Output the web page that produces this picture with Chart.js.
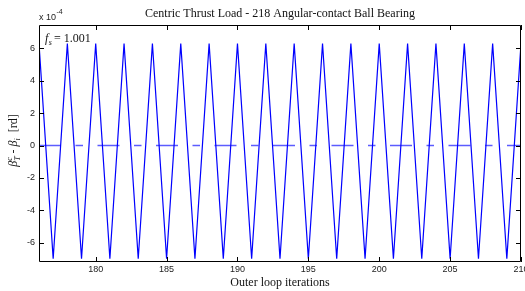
<!DOCTYPE html>
<html>
<head>
<meta charset="utf-8">
<script src="https://cdn.jsdelivr.net/npm/chart.js@4"></script>
<style>
  html, body { margin: 0; padding: 0; background: #fff; }
  #wrap { width: 525px; height: 291px; position: relative; }
</style>
</head>
<body>
<div id="wrap"><canvas id="c" width="525" height="291"></canvas></div>
<script>
// ---- Data (values in units of 1e-4 rd) ----
const iterations = [176,177,178,179,180,181,182,183,184,185,186,187,188,189,190,191,192,193,194,195,196,197,198,199,200,201,202,203,204,205,206,207,208,209,210];
const errorValues = [6.3,-7.0,6.3,-7.0,6.3,-7.0,6.3,-7.0,6.3,-7.0,6.3,-7.0,6.3,-7.0,6.3,-7.0,6.3,-7.0,6.3,-7.0,6.3,-7.0,6.3,-7.0,6.3,-7.0,6.3,-7.0,6.3,-7.0,6.3,-7.0,6.3,-7.0,6.3];
const zeroLevel = [0, 0];
const xTicks = [180,185,190,195,200,205,210];
const yTicks = [-6,-4,-2,0,2,4,6];
const yExponent = -4;
const titleText = 'Centric Thrust Load - 218 Angular-contact Ball Bearing';
const xTitleText = 'Outer loop iterations';
const fsValue = '1.001';

const mainPoints = iterations.map((x, i) => ({ x: x, y: errorValues[i] }));
const zeroPoints = [
  { x: iterations[0], y: zeroLevel[0] },
  { x: iterations[iterations.length - 1], y: zeroLevel[1] }
];

const SANS = '"Liberation Sans", Arial, sans-serif';
const SERIF = '"Liberation Serif", "Times New Roman", serif';

const framePlugin = {
  id: 'frame',
  afterDraw(chart) {
    const ctx = chart.ctx;
    const a = chart.chartArea;
    const xs = chart.scales.x, ys = chart.scales.y;
    ctx.save();
    // box
    ctx.strokeStyle = '#000';
    ctx.lineWidth = 1;
    ctx.beginPath();
    ctx.rect(Math.round(a.left) + 0.5, Math.round(a.top) + 0.5, Math.round(a.right - a.left) - 1, Math.round(a.bottom - a.top) - 1);
    ctx.stroke();
    // inward ticks
    const tl = 5;
    ctx.beginPath();
    xTicks.forEach(v => {
      const px = Math.round(xs.getPixelForValue(v)) + 0.5;
      ctx.moveTo(px, a.bottom); ctx.lineTo(px, a.bottom - tl);
      ctx.moveTo(px, a.top); ctx.lineTo(px, a.top + tl);
    });
    yTicks.forEach(v => {
      const py = Math.round(ys.getPixelForValue(v)) + 0.5;
      ctx.moveTo(a.left, py); ctx.lineTo(a.left + tl, py);
      ctx.moveTo(a.right, py); ctx.lineTo(a.right - tl, py);
    });
    ctx.stroke();
    // tick labels
    ctx.fillStyle = '#222';
    ctx.font = '9px ' + SANS;
    ctx.textAlign = 'center';
    ctx.textBaseline = 'middle';
    xTicks.forEach(v => {
      ctx.fillText(String(v), xs.getPixelForValue(v), a.bottom + 8);
    });
    ctx.textAlign = 'right';
    yTicks.forEach(v => {
      ctx.fillText(String(v), a.left - 4, ys.getPixelForValue(v));
    });
    // exponent label
    ctx.textAlign = 'left';
    ctx.textBaseline = 'alphabetic';
    ctx.font = '9px ' + SANS;
    ctx.fillText('x 10', a.left, a.top - 5);
    const w10 = ctx.measureText('x 10').width;
    ctx.font = '7px ' + SANS;
    ctx.fillText(String(yExponent), a.left + w10 + 0.5, a.top - 11);
    // title
    ctx.fillStyle = '#111';
    ctx.font = '12px ' + SERIF;
    ctx.textAlign = 'center';
    ctx.fillText(titleText, (a.left + a.right) / 2, 17);
    // x title
    ctx.fillText(xTitleText, (a.left + a.right) / 2, 286);
    // f_s annotation
    ctx.textAlign = 'left';
    let x0 = a.left + 6, base = a.top + 17;
    ctx.font = 'italic 12px ' + SERIF;
    ctx.fillText('f', x0, base);
    x0 += ctx.measureText('f').width + 0.5;
    ctx.font = 'italic 8px ' + SERIF;
    ctx.fillText('s', x0, base + 3);
    x0 += ctx.measureText('s').width + 2;
    ctx.font = '12px ' + SERIF;
    ctx.fillText('= ' + fsValue, x0, base);
    // y label (rotated)
    ctx.translate(17, (a.top + a.bottom) / 2 - 3);
    ctx.rotate(-Math.PI / 2);
    const parts = [
      { t: '\u03B2', f: 'italic 12px ' + SERIF, dy: 0 },
      { t: 'c', f: 'italic 8px ' + SERIF, dy: -5, noAdvance: true },
      { t: 'T', f: 'italic 8px ' + SERIF, dy: 3 },
      { t: ' - ', f: '12px ' + SERIF, dy: 0 },
      { t: '\u03B2', f: 'italic 12px ' + SERIF, dy: 0 },
      { t: 'i', f: 'italic 8px ' + SERIF, dy: 3 },
      { t: '  [rd]', f: '12px ' + SERIF, dy: 0 }
    ];
    let total = 0;
    parts.forEach(p => { ctx.font = p.f; if (!p.noAdvance) total += ctx.measureText(p.t).width; });
    let cx = -total / 2;
    parts.forEach(p => {
      ctx.font = p.f;
      ctx.fillText(p.t, cx, p.dy);
      if (!p.noAdvance) cx += ctx.measureText(p.t).width;
    });
    ctx.restore();
  }
};

new Chart(document.getElementById('c'), {
  type: 'line',
  data: {
    datasets: [
      {
        label: 'zero',
        data: zeroPoints,
        borderColor: '#5c5cff',
        borderWidth: 1.4,
        borderDash: [22, 14.5, 7.5, 14.5],
        pointRadius: 0,
        tension: 0,
        order: 2
      },
      {
        label: 'error',
        data: mainPoints,
        borderColor: '#0000ff',
        borderWidth: 1.2,
        pointRadius: 0,
        tension: 0,
        order: 1
      }
    ]
  },
  options: {
    responsive: false,
    animation: false,
    devicePixelRatio: 1,
    layout: { padding: { left: 39, right: 4, top: 25, bottom: 29 } },
    plugins: { legend: { display: false }, tooltip: { enabled: false }, title: { display: false } },
    scales: {
      x: { type: 'linear', display: false, min: 176, max: 210 },
      y: { type: 'linear', display: false, min: -7.2, max: 7.45 }
    }
  },
  plugins: [framePlugin]
});
</script>
</body>
</html>
